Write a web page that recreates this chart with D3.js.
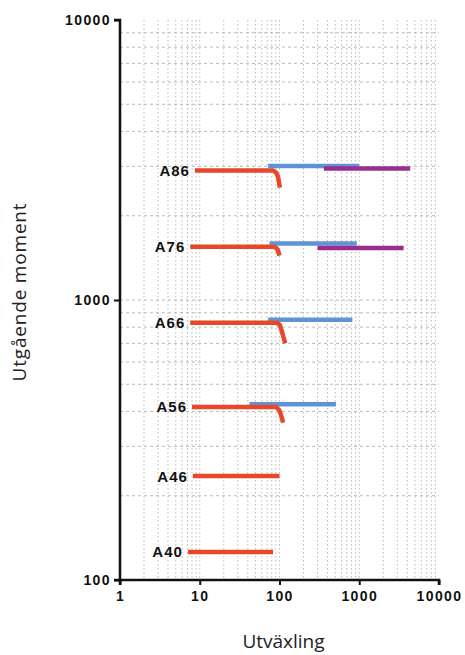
<!DOCTYPE html>
<html>
<head>
<meta charset="utf-8">
<script src="https://cdn.jsdelivr.net/npm/d3@7"></script>
<style>
  body { margin: 0; background: #fff; }
  svg { display: block; }
</style>
</head>
<body>
<script>
// ---- data ----
const models = ["A86", "A76", "A66", "A56", "A46", "A40"];
const redSeries = [
  [[8.7, 2900], [83, 2900], [91, 2850], [96, 2750], [101, 2520]],
  [[7.6, 1550], [85, 1550], [92, 1530], [96, 1500], [100, 1440]],
  [[7.6, 830], [92, 830], [101, 815], [106, 780], [118, 700]],
  [[8.0, 415], [90, 415], [99, 405], [104, 390], [111, 365]],
  [[8.2, 235], [100, 235]],
  [[7.1, 126], [83, 126]]
];
const blueSeries = [
  [[72, 3010], [1000, 3010]],
  [[75, 1590], [930, 1590]],
  [[72, 850], [820, 850]],
  [[42, 424], [510, 424]],
  [],
  []
];
const purpleSeries = [
  [[360, 2950], [4350, 2950]],
  [[300, 1535], [3600, 1535]],
  [], [], [], []
];
const xTickValues = [1, 10, 100, 1000, 10000];
const yTickValues = [100, 1000, 10000];
const xTitle = "Utväxling";
const yTitle = "Utgående moment";

(function () {
// ---- layout ----
const W = 465, H = 655;
const mLeft = 120, mRight = 439, mTop = 20, mBottom = 580;

const svg = d3.select("body").append("svg").attr("width", W).attr("height", H);

const x = d3.scaleLog().domain([1, 10000]).range([mLeft, mRight]);
const y = d3.scaleLog().domain([100, 10000]).range([mBottom, mTop]);

// grid values
const minorX = [], minorY = [];
for (let d = 1; d < 10000; d *= 10) for (let k = 1; k <= 9; k++) { const v = d * k; if (v > 1) minorX.push(v); }
for (let d = 100; d < 10000; d *= 10) for (let k = 1; k <= 9; k++) { const v = d * k; if (v > 100) minorY.push(v); }

const grid = svg.append("g");
grid.selectAll("line.v").data(minorX).join("line")
  .attr("x1", d => x(d)).attr("x2", d => x(d))
  .attr("y1", mTop).attr("y2", mBottom)
  .attr("stroke", "#aaaaaa").attr("stroke-width", 0.8)
  .attr("stroke-dasharray", "1.5,2.5");
grid.selectAll("line.h").data(minorY).join("line")
  .attr("x1", mLeft).attr("x2", mRight)
  .attr("y1", d => y(d)).attr("y2", d => y(d))
  .attr("stroke", "#aaaaaa").attr("stroke-width", 0.8)
  .attr("stroke-dasharray", "3,3");

// axes
const fmt = d => String(d);
const xAxis = d3.axisBottom(x).tickValues(xTickValues).tickFormat(fmt).tickSize(5).tickPadding(6);
const yAxis = d3.axisLeft(y).tickValues(yTickValues).tickFormat(fmt).tickSize(6).tickPadding(3);

const gx = svg.append("g").attr("transform", `translate(0,${mBottom})`).call(xAxis);
const gy = svg.append("g").attr("transform", `translate(${mLeft},0)`).call(yAxis);
[gx, gy].forEach(g => {
  g.select(".domain").attr("stroke", "#111").attr("stroke-width", 2.5);
  g.selectAll(".tick line").attr("stroke", "#111").attr("stroke-width", 2);
  g.selectAll(".tick text")
    .attr("fill", "#111")
    .style("font-family", "'Liberation Sans', Arial, sans-serif")
    .style("font-size", "14px").style("font-weight", "bold")
    .style("letter-spacing", "1.4px");
});
gy.select(".domain").attr("d", `M-6,${mTop}H0V${mBottom + 5}`);
gx.select(".domain").attr("d", `M${mLeft - 6},0H${mRight}V5`);

// lines
const line = d3.line().x(d => x(d[0])).y(d => y(d[1]));
const lines = svg.append("g").attr("fill", "none").attr("stroke-width", 4.5)
  .attr("stroke-linecap", "butt").attr("stroke-linejoin", "round");
lines.selectAll("path.blue").data(blueSeries.filter(s => s.length)).join("path")
  .attr("d", line).attr("stroke", "#5f93d6");
lines.selectAll("path.purple").data(purpleSeries.filter(s => s.length)).join("path")
  .attr("d", line).attr("stroke", "#992e8e");
lines.selectAll("path.red").data(redSeries).join("path")
  .attr("d", line).attr("stroke", "#e8472a");

// model labels
svg.append("g").selectAll("text").data(models).join("text")
  .attr("x", (d, i) => x(redSeries[i][0][0]) - 5)
  .attr("y", (d, i) => y(redSeries[i][0][1]) + 5.5)
  .attr("text-anchor", "end")
  .style("font-family", "'Liberation Sans', Arial, sans-serif")
  .style("font-size", "15px").style("font-weight", "bold")
  .style("letter-spacing", "1px")
  .attr("fill", "#111")
  .text(d => d);

// titles
svg.append("text")
  .attr("x", (mLeft + mRight) / 2 + 4).attr("y", 648)
  .attr("text-anchor", "middle")
  .style("font-family", "'Open Sans', sans-serif").style("font-size", "19px")
  .attr("fill", "#222").text(xTitle);
svg.append("text")
  .attr("transform", `translate(26,${(mTop + mBottom) / 2 - 8}) rotate(-90)`)
  .attr("text-anchor", "middle")
  .style("font-family", "'Open Sans', sans-serif").style("font-size", "19px")
  .style("letter-spacing", "0.8px")
  .attr("fill", "#222").text(yTitle);
})();
</script>
</body>
</html>
